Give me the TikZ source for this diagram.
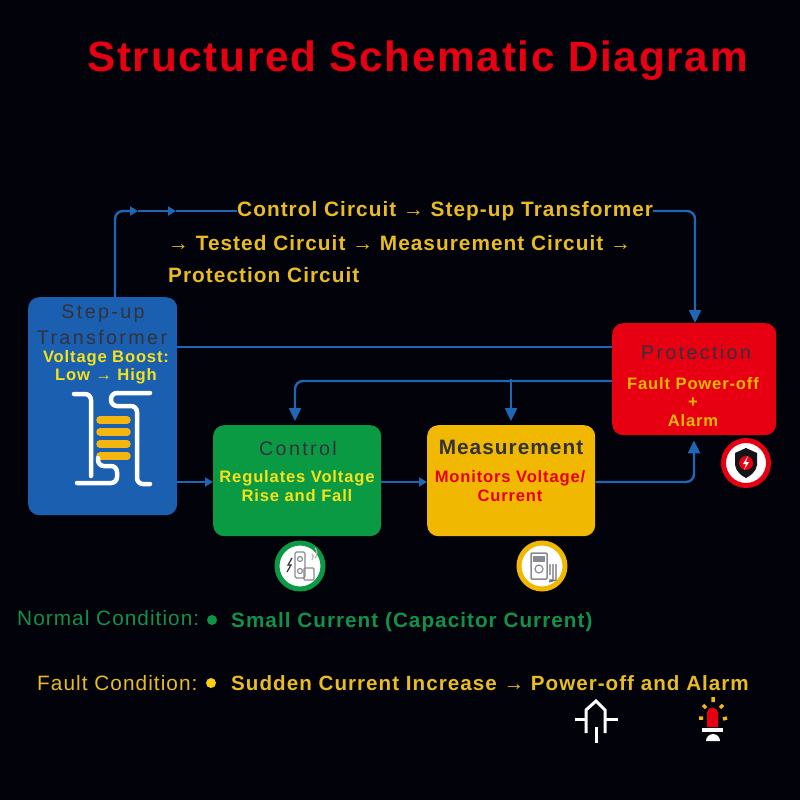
\documentclass[tikz,border=0pt]{standalone}
\usepackage{fontspec}
\setmainfont{Liberation Sans}[LetterSpace=5]
\newfontfamily\titlefont{Liberation Sans}[LetterSpace=4,Scale=1]
\newfontfamily\widefont{Liberation Sans}[LetterSpace=12]
\usetikzlibrary{arrows.meta,calc}
\definecolor{bgc}{HTML}{02020A}
\definecolor{wirec}{HTML}{1F66B4}
\definecolor{bluec}{HTML}{1B5FB0}
\definecolor{greenc}{HTML}{0B9A44}
\definecolor{amberc}{HTML}{F0B800}
\definecolor{redc}{HTML}{E60012}
\definecolor{goldc}{HTML}{E9BC22}
\definecolor{yelc}{HTML}{F5E21A}
\definecolor{darkc}{HTML}{33323C}
\definecolor{legendg}{HTML}{10924A}
\definecolor{coilc}{HTML}{F5B50F}
\definecolor{icong}{HTML}{8A8A92}
\tikzset{
  card/.style={rounded corners=11pt,inner sep=0pt,anchor=north west},
  wire/.style={draw=wirec,line width=2.4pt,rounded corners=8pt},
  tip/.style={-{Triangle[length=13pt,width=12pt]}},
  midtip/.style={-{Triangle[length=8pt,width=9pt]}},
  head/.style={font=\widefont\fontsize{19.7}{24}\selectfont,text=darkc},
  sub/.style={font=\bfseries\fontsize{16.6}{18.5}\selectfont,align=center},
  flow/.style={font=\bfseries\fontsize{20.8}{22}\selectfont,text=goldc,anchor=west,inner sep=0pt},
  badge/.style={circle,fill=white,line width=5pt,minimum size=46pt,inner sep=0pt},
  coilw/.style={draw=white,line width=4.5pt,line cap=round,rounded corners=6pt},
  coily/.style={draw=coilc,line width=7.5pt,line cap=round},
  sym/.style={draw=white,line width=3pt},
}
\begin{document}
\begin{tikzpicture}[x=1pt,y=-1pt]
\useasboundingbox (0,0) rectangle (800,800);
\fill[bgc] (0,0) rectangle (800,800);
\node[anchor=west,inner sep=0pt,text=redc,font=\titlefont\bfseries\fontsize{42.3}{44}\selectfont] (title) at (87,61) {Structured Schematic Diagram};
% cards
\node[card,fill=bluec,minimum width=149pt,minimum height=218pt] (trans) at (28,297) {};
\node[card,fill=greenc,minimum width=168pt,minimum height=111pt] (ctrl) at (213,425) {};
\node[card,fill=amberc,minimum width=168pt,minimum height=111pt] (meas) at (427,425) {};
\node[card,fill=redc,minimum width=164pt,minimum height=112pt] (prot) at (612,323) {};
% card texts
\node[head,align=center] (t1) at (103,314) {Step-up};
\node[head] (t2) at (102,337) {Transformer};
\node[sub,text=yelc] (t3) at (106,367) {Voltage Boost:\\Low → High};
\node[head] (c1) at (298,448) {Control};
\node[sub,text=yelc] (c2) at (297,486) {Regulates Voltage\\Rise and Fall};
\node[head,font=\bfseries\fontsize{20.8}{24}\selectfont] (m1) at (511,447) {Measurement};
\node[sub,text=redc] (m2) at (510,486) {Monitors Voltage/\\Current};
\node[head] (p1) at (696,352) {Protection};
\node[sub,text=amberc] (p2) at (693,402) {Fault Power-off\\+\\Alarm};
% flow text
\node[flow] (f1) at (237,211) {Control Circuit → Step-up Transformer};
\node[flow] (f2) at (168,243) {→ Tested Circuit → Measurement Circuit →};
\node[flow] (f3) at (168,275) {Protection Circuit};
% connectors
\coordinate (a1) at (138,211);
\coordinate (a2) at (176,211);
\draw[wire,midtip] (trans.north -| 115,0) |- (a1);
\draw[wire,midtip] (a1) -- (a2);
\draw[wire] (a2) -- (f1.west);
\draw[wire,tip] (f1.east) -| (prot.north -| 695,0);
\draw[wire] (trans.east |- 0,347) -- (prot.west |- 0,347);
\draw[wire,tip] (prot.west |- 0,381) -| ($(ctrl.north -| 295,0)+(0,-4)$);
\draw[wire,tip] (prot.west -| 511,381) -- ($(meas.north -| 511,0)+(0,-4)$);
\draw[wire,midtip] (trans.east |- 0,482) -- (ctrl.west |- 0,482);
\draw[wire,midtip] (ctrl.east |- 0,482) -- (meas.west |- 0,482);
\draw[wire,tip] (meas.east |- 0,482) -| ($(prot.south -| 694,0)+(0,5)$);
% transformer symbol
\draw[coily] (100,420) -- (127,420);
\draw[coily] (100,432) -- (127,432);
\draw[coily] (100,444) -- (127,444);
\draw[coily] (100,456) -- (127,456);
\draw[coilw] (74,394) -- (91,394) -- (91,476);
\draw[coilw] (150,393) -- (111,393) -- (111,406) -- (137,406) -- (137,484) -- (150,484);
\draw[coilw] (77,483) -- (117,483) -- (117,466) -- (98,466) -- (98,458);
% badges
\node[badge,draw=greenc] (bc) at (300,566) {};
\node[badge,draw=amberc] (bm) at (542,566) {};
\node[badge,draw=redc,minimum size=45pt] (bp) at (746,463) {};
% control icon
\draw[icong,line width=1.2pt,rounded corners=1.5pt] (295,552) rectangle (305,578);
\draw[icong,line width=1.2pt] (300,559) circle (2.5pt) (300,571) circle (2.5pt);
\draw[darkc,line width=1.2pt] (292,558) -- (288,565) -- (291,565) -- (287,572);
\draw[icong,line width=1.2pt,rounded corners=1pt] (304,568) rectangle (314,580);
\draw[icong!60,line width=1.2pt] (312,560) arc (-40:40:5pt) (315,558) arc (-40:40:8pt);
% meter icon
\draw[icong,line width=1.5pt,rounded corners=1pt] (531,553) rectangle (547,579);
\fill[icong] (533,556) rectangle (545,562);
\draw[icong,line width=1.2pt] (539,569) circle (4pt);
\draw[darkc!70,line width=1.2pt] (549,580) -- (553,580) -- (553,564) (550,564) -- (550,575) (553,564) -- (553,575) (556,564) -- (556,580) -- (549,582);
% shield icon
\fill[darkc!40!black] (746,448) -- (757,453) -- (757,465) .. controls (756,472) and (750,476) .. (746,478) .. controls (742,476) and (736,472) .. (735,465) -- (735,453) -- cycle;
\fill[redc] (746,463) circle (7pt);
\fill[white] (748,456) -- (743,464) -- (746,464) -- (744,470) -- (749,462) -- (746,462) -- cycle;
% legend
\node[anchor=west,inner sep=0pt,text=legendg,font=\fontsize{20.8}{22}\selectfont] (l1) at (17,618) {Normal Condition:};
\node[circle,fill=legendg,minimum size=10pt,inner sep=0pt] (d1) at (212,620) {};
\node[anchor=west,inner sep=0pt,text=legendg,font=\bfseries\fontsize{20.7}{22}\selectfont] (l2) at (231,622) {Small Current (Capacitor Current)};
\node[anchor=west,inner sep=0pt,text=goldc,font=\fontsize{20.8}{22}\selectfont] (l3) at (37,683) {Fault Condition:};
\node[circle,fill=yelc!80!orange,minimum size=10pt,inner sep=0pt] (d2) at (211,683) {};
\node[anchor=west,inner sep=0pt,text=goldc,font=\bfseries\fontsize{20.6}{22}\selectfont] (l4) at (231,683) {Sudden Current Increase → Power-off and Alarm};
% power-off symbol
\draw[sym] (586,733) -- (586,710) -- (596,701) -- (605,710) -- (605,733);
\draw[sym] (575,719) -- (586,719) (605,719) -- (618,719);
\draw[sym] (596,727) -- (596,743);
% alarm symbol
\fill[redc] (707,727) -- (707,713) arc (180:0:5.5pt) -- (718,727) -- cycle;
\fill[white] (702,728) rectangle (723,732);
\fill[white] (706,741) arc (180:0:7pt) -- cycle;
\draw[coilc,line width=3.5pt] (713,697) -- (713,702) (703,705) -- (706,708) (723,705) -- (720,708) (699,718) -- (703,718) (723,719) -- (727,718);
\end{tikzpicture}
\end{document}
